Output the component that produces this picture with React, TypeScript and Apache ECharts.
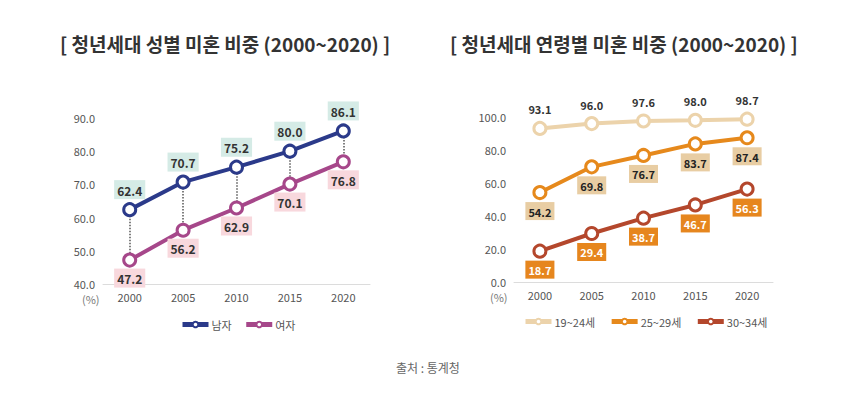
import React, { useEffect, useRef } from "react";
import * as echarts from "echarts";

const years = ["2000", "2005", "2010", "2015", "2020"];
const maleValues = [62.4, 70.7, 75.2, 80.0, 86.1];
const femaleValues = [47.2, 56.2, 62.9, 70.1, 76.8];
const age1924 = [93.1, 96.0, 97.6, 98.0, 98.7];
const age2529 = [54.2, 69.8, 76.7, 83.7, 87.4];
const age3034 = [18.7, 29.4, 38.7, 46.7, 56.3];
const leftTitle = "[ 청년세대 성별 미혼 비중 (2000~2020) ]";
const rightTitle = "[ 청년세대 연령별 미혼 비중 (2000~2020) ]";
const sourceText = "출처 : 통계청";
const FONT = "'Noto Sans CJK KR', 'Noto Sans', sans-serif";

export default function App() {
  const ref = useRef<HTMLDivElement>(null);
  useEffect(() => {
    document.body.style.margin = "0";
    const chart = echarts.init(ref.current!, undefined, { renderer: "svg" });
    const fmt = (p: any) => Number(p.value).toFixed(1);
    const lbl = (pos: string, bg: string, color: string, size: number, dist: number) => ({
      show: true,
      position: pos,
      distance: dist,
      formatter: fmt,
      fontFamily: FONT,
      fontSize: size,
      fontWeight: "bold",
      color,
      backgroundColor: bg,
      padding: [4, 3, 3, 3],
    });
    const xAxisBase = (gi: number) => ({
      type: "category",
      gridIndex: gi,
      data: years,
      boundaryGap: true,
      axisTick: { show: false },
      axisLine: { lineStyle: { color: "#dcdcdc", width: 1 } },
      axisLabel: { color: "#555", fontSize: 11, fontFamily: FONT, margin: 7 },
    });
    const yAxisBase = (gi: number, min: number, max: number, interval: number) => ({
      type: "value",
      gridIndex: gi,
      min,
      max,
      interval,
      axisLine: { show: false },
      axisTick: { show: false },
      splitLine: { show: false },
      axisLabel: {
        color: "#555",
        fontSize: 11,
        fontFamily: FONT,
        margin: 8,
        formatter: (v: number) => v.toFixed(1),
      },
    });
    const lineSeries = (name: string, data: number[], color: string, gi: number, label: any, extra: any = {}) => ({
      name,
      type: "line",
      xAxisIndex: gi,
      yAxisIndex: gi,
      data,
      symbol: "circle",
      symbolSize: 12,
      lineStyle: { color, width: 4 },
      itemStyle: { color: "#fff", borderColor: color, borderWidth: 3 },
      label,
      ...extra,
    });
    const connectors = years.map((_, i) => [
      { coord: [i, maleValues[i]] },
      { coord: [i, femaleValues[i]] },
    ]);
    const legendBase = {
      itemWidth: 26,
      itemHeight: 7,
      itemGap: 12,
      lineStyle: { width: 5 },
      itemStyle: { borderWidth: 2 },
      textStyle: { color: "#555", fontSize: 11, fontFamily: FONT, padding: [0, 0, 0, -2] },
    };
    chart.setOption({
      animation: false,
      textStyle: { fontFamily: FONT },
      grid: [
        { left: 103, top: 118, width: 267, height: 166 },
        { left: 514, top: 117, width: 259, height: 165 },
      ],
      xAxis: [xAxisBase(0), xAxisBase(1)],
      yAxis: [yAxisBase(0, 40, 90, 10), yAxisBase(1, 0, 100, 20)],
      legend: [
        { ...legendBase, data: ["남자", "여자"], left: 175, top: 314 },
        { ...legendBase, data: ["19~24세", "25~29세", "30~34세"], left: 518, top: 311, itemGap: 14 },
      ],
      graphic: [
        {
          type: "text",
          left: 60,
          top: 34,
          style: { text: leftTitle, fill: "#333", font: `bold 19px ${FONT}` },
        },
        {
          type: "text",
          left: 450,
          top: 34,
          style: { text: rightTitle, fill: "#333", font: `bold 19px ${FONT}` },
        },
        {
          type: "text",
          left: 82,
          top: 293,
          style: { text: "(%)", fill: "#777", font: `11px ${FONT}` },
        },
        {
          type: "text",
          left: 490,
          top: 291,
          style: { text: "(%)", fill: "#777", font: `11px ${FONT}` },
        },
        {
          type: "text",
          left: 396,
          top: 361,
          style: { text: sourceText, fill: "#666", font: `12px ${FONT}` },
        },
      ],
      series: [
        lineSeries("남자", maleValues, "#2b3a8a", 0, lbl("top", "#d5ebe6", "#333", 12, 3), {
          z: 3,
          markLine: {
            silent: true,
            symbol: ["none", "none"],
            label: { show: false },
            lineStyle: { color: "#555", type: "dotted", width: 1.5 },
            data: connectors,
            z: 1,
          },
        }),
        lineSeries("여자", femaleValues, "#a6478a", 0, lbl("bottom", "#f8d8dd", "#333", 12, 1), { z: 3 }),
        lineSeries("19~24세", age1924, "#ecd3ab", 1, lbl("top", "transparent", "#333", 11, 3)),
        lineSeries("25~29세", age2529, "#e6891c", 1, lbl("bottom", "#e8cda3", "#222", 11, 2)),
        lineSeries("30~34세", age3034, "#b4472c", 1, lbl("bottom", "#e6861e", "#fff", 11, 2)),
      ],
    });
    return () => chart.dispose();
  }, []);
  return <div ref={ref} style={{ width: 856, height: 399 }} />;
}
